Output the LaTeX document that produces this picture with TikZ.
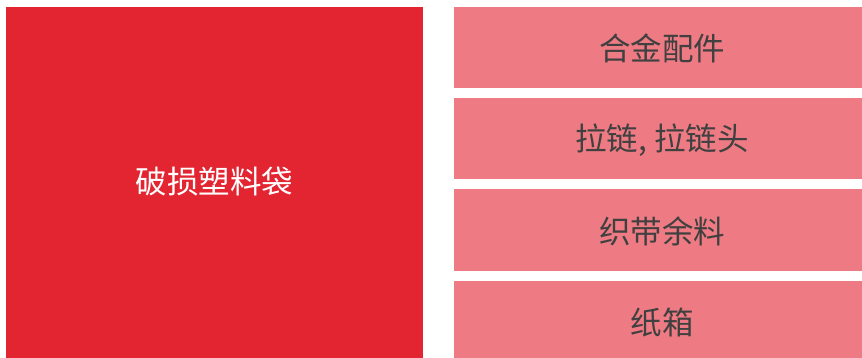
\documentclass[tikz,border=0pt]{standalone}
\usepackage{fontspec}
\newfontfamily\cjk{Noto Sans CJK SC}
\usetikzlibrary{positioning}
\definecolor{bigred}{HTML}{E32431}
\definecolor{softred}{HTML}{EE7B83}
\definecolor{inkgray}{HTML}{404040}
\tikzset{bigtext/.style={text=white,font=\cjk\fontsize{31.5}{32}\selectfont},
  itemtext/.style={text=inkgray,font=\cjk\fontsize{31.5}{32}\selectfont}}

\begin{document}
\begin{tikzpicture}[x=1pt,y=-1pt]
\useasboundingbox (0,0) rectangle (862,358);
\fill[bigred] (6,7) rectangle (423,358);
\node[bigtext] (bag) at (214.5,182) {破损塑料袋};
\fill[softred] (454,7) rectangle (862,88);
\fill[softred] (454,98) rectangle (862,179);
\fill[softred] (454,189) rectangle (862,271);
\fill[softred] (454,281) rectangle (862,358);
\node[itemtext] (alloy) at (662,48) {合金配件};
\node[itemtext] (zip) at (662,140) {拉链, 拉链头};
\node[itemtext] (web) at (662,231) {织带余料};
\node[itemtext] (carton) at (662,322) {纸箱};
\end{tikzpicture}
\end{document}
